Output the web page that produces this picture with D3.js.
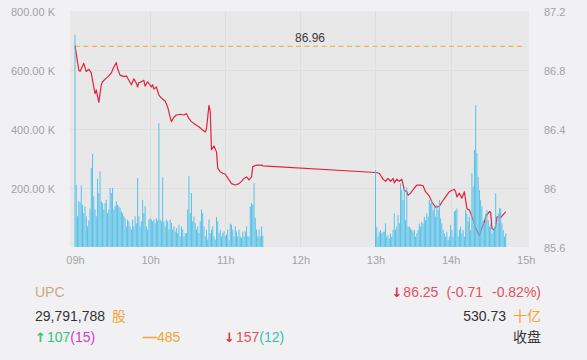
<!DOCTYPE html>
<html><head><meta charset="utf-8">
<script src="https://cdn.jsdelivr.net/npm/d3@7"></script>
<style>
body{margin:0;background:#f1f1f3;}
svg{display:block;font-family:"Liberation Sans",Arial,"Noto Sans CJK SC",sans-serif;}
</style></head><body>
<svg id="c" width="587" height="360"></svg>
<script>
// ---------- data ----------
const prevClose = 86.96;
const volMorningStart = "09:00";
const volMorningK = [719,211,104,155,151,208,143,115,138,104,70,90,130,268,316,172,127,104,232,183,
256,155,149,127,149,160,115,127,200,183,200,127,138,155,143,138,132,121,115,104,
98,70,93,87,70,59,93,70,104,80,234,104,70,87,160,115,138,70,59,93,
98,93,87,93,81,98,90,420,93,87,236,87,70,93,87,59,93,81,59,70,
53,64,47,76,36,70,59,36,47,47,127,240,115,183,87,104,81,59,70,47,
87,127,115,70,36,59,25,93,47,59,70,36,25,102,87,47,59,36,47,53,
36,42,59,25,79,76,59,36,70,53,36,59,36,31,53,36,53,70,36,36,
138,149,143,217,98,59,36,59,36,70,38];
const volAfternoonStart = "13:00";
const volAfternoonK = [261,69,35,52,58,46,52,52,80,35,41,29,46,35,58,114,58,69,108,80,
216,193,159,205,91,202,69,69,63,58,52,58,35,46,58,80,69,86,80,103,
91,114,103,159,148,159,125,137,103,
142,125,159,97,80,58,46,35,52,24,35,75,58,35,120,125,131,35,58,69,
46,58,35,125,114,86,103,58,250,205,329,481,318,238,193,159,137,91,80,114,
125,91,69,80,46,58,69,182,80,114,131,131,80,58,35,46];
const priceTimes = ["09:00","09:03","09:04","09:07","09:09","09:11","09:13","09:14","09:16","09:17",
"09:19","09:21","09:22","09:25","09:27","09:29","09:31","09:33","09:34","09:36",
"09:39","09:41","09:43","09:45","09:47","09:49","09:50","09:51","09:53","09:55",
"09:56","09:58","09:59","10:01","10:02","10:03","10:05","10:07","10:09","10:12",
"10:14","10:16","10:17","10:19","10:21","10:24","10:27","10:29","10:31","10:33",
"10:36","10:39","10:41","10:44","10:45","10:47","10:48","10:49","10:51","10:53",
"10:54","10:56","10:58","11:00","11:01","11:03","11:05","11:08","11:11","11:13",
"11:15","11:17","11:18","11:19","11:21","11:22","11:25","11:29","11:30",
"13:00","13:03","13:06","13:08","13:10","13:12","13:14","13:15","13:17","13:19",
"13:21","13:23","13:25","13:26","13:28","13:31","13:33","13:36","13:38","13:40",
"13:43","13:45","13:48","13:51","13:53","13:56","13:59","14:01","14:03","14:04",
"14:05","14:07","14:09","14:11","14:13","14:15","14:17","14:19","14:20","14:23",
"14:25","14:27","14:28","14:31","14:32","14:33","14:35","14:36","14:37","14:40",
"14:41","14:43","14:44"];
const priceValues = [86.965,86.80,86.79,86.845,86.79,86.805,86.78,86.73,86.64,86.665,
86.58,86.70,86.72,86.745,86.76,86.78,86.82,86.85,86.81,86.765,
86.755,86.76,86.73,86.70,86.74,86.71,86.685,86.715,86.72,86.73,
86.69,86.72,86.71,86.685,86.70,86.67,86.685,86.63,86.61,86.59,
86.55,86.48,86.45,86.48,86.495,86.50,86.495,86.505,86.47,86.45,
86.43,86.415,86.40,86.38,86.40,86.56,86.52,86.26,86.285,86.245,
86.135,86.11,86.10,86.095,86.08,86.055,86.03,86.02,86.03,86.045,
86.065,86.075,86.065,86.055,86.075,86.145,86.155,86.155,86.15,
86.105,86.10,86.06,86.045,86.065,86.045,86.065,86.035,86.06,86.045,
86.06,85.985,85.975,85.95,85.965,86.00,86.02,86.02,86.015,85.975,
85.945,85.905,85.87,85.875,85.905,85.94,85.975,85.985,85.99,85.975,
85.94,85.965,85.93,85.975,85.86,85.85,85.805,85.76,85.73,85.675,
85.73,85.77,85.805,85.84,85.835,85.725,85.715,85.74,85.805,85.80,
85.81,85.83,85.84];
const volTicks = [200000,400000,600000,800000];
const priceTicks = [85.6,86,86.4,86.8,87.2];
const hourTicks = ["09:00","10:00","11:00","12:00","13:00","14:00","15:00"];

// ---------- setup ----------
const svg = d3.select("#c");
const W = 587, H = 360;
const plot = {left:70, right:529, top:11, bottom:247};
const parse = s => { const [h,m] = s.split(":").map(Number); return new Date(2020,0,2,h,m); };
const addMin = (d,n) => new Date(d.getTime()+n*60000);

const x = d3.scaleTime()
  .domain([parse("08:56"), parse("15:03")])
  .range([plot.left, plot.right+0.5]);
const yV = d3.scaleLinear().domain([0,800000]).range([plot.bottom, plot.top]);
const yP = d3.scaleLinear().domain([85.6,87.2]).range([plot.bottom, plot.top]);

svg.append("rect").attr("width",W).attr("height",H).attr("fill","#f1f1f3");
svg.append("rect").attr("x",plot.left).attr("y",plot.top)
  .attr("width",plot.right-plot.left).attr("height",plot.bottom-plot.top)
  .attr("fill","#e8e8e8");

// grid
const grid = svg.append("g").attr("stroke","#dedede").attr("stroke-width",1);
grid.selectAll("line.h").data(volTicks.slice(0,3)).join("line")
  .attr("x1",plot.left).attr("x2",plot.right)
  .attr("y1",d=>Math.round(yV(d))+0.5).attr("y2",d=>Math.round(yV(d))+0.5);
grid.selectAll("line.v").data(hourTicks.slice(1,6)).join("line")
  .attr("x1",d=>Math.round(x(parse(d)))+0.5).attr("x2",d=>Math.round(x(parse(d)))+0.5)
  .attr("y1",plot.top).attr("y2",plot.bottom);

// reference line
const t0 = parse("09:00"), t1 = parse("15:00");
svg.append("line").attr("x1",x(t0)).attr("x2",x(t1))
  .attr("y1",yP(prevClose)).attr("y2",yP(prevClose))
  .attr("stroke","#f5b453").attr("stroke-width",1.3).attr("stroke-dasharray","5,3.5");
svg.append("text").attr("x",310).attr("y",yP(prevClose)-4.5)
  .attr("text-anchor","middle").attr("font-size",12).attr("fill","#3a3a3a")
  .text(prevClose.toFixed(2));

// price line
const pts = priceTimes.map((t,i)=>({t:parse(t), p:priceValues[i]}));
svg.append("path").datum(pts)
  .attr("d", d3.line().x(d=>x(d.t)).y(d=>yP(d.p)))
  .attr("fill","none").attr("stroke","#e2233b").attr("stroke-width",1.2)
  .attr("stroke-linejoin","round");

// volume bars
const bars = [
  ...volMorningK.map((v,i)=>({t:addMin(parse(volMorningStart),i), v:v*1000})),
  ...volAfternoonK.map((v,i)=>({t:addMin(parse(volAfternoonStart),i), v:v*1000}))
];
svg.append("g").selectAll("rect").data(bars).join("rect")
  .attr("x",d=>x(d.t)-0.5).attr("width",1)
  .attr("y",d=>yV(d.v)).attr("height",d=>yV(0)-yV(d.v))
  .attr("fill","#56c2ea");

// axes
const axisStyle = g => {
  g.select(".domain").remove();
  g.selectAll(".tick line").remove();
  g.selectAll("text").attr("fill","#a3a3a3").attr("font-size",11)
    .attr("font-family","Liberation Sans, Arial, sans-serif");
};
svg.append("g").attr("transform",`translate(${plot.left},1)`)
  .call(d3.axisLeft(yV).tickValues(volTicks).tickSize(0).tickPadding(15)
    .tickFormat(d=>(d/1000).toFixed(2)+" K"))
  .call(axisStyle);
svg.append("g").attr("transform",`translate(${plot.right},1)`)
  .call(d3.axisRight(yP).tickValues(priceTicks).tickSize(0).tickPadding(15)
    .tickFormat(d=>String(+d.toFixed(1))))
  .call(axisStyle);
svg.append("g").attr("transform",`translate(0,${plot.bottom})`)
  .call(d3.axisBottom(x).tickValues(hourTicks.map(parse)).tickSize(0).tickPadding(9)
    .tickFormat(d3.timeFormat("%Hh")))
  .call(axisStyle);

// ---------- info panel ----------
const info = svg.append("g").attr("font-size",14);
info.append("text").attr("x",35).attr("y",297).attr("fill","#cba886").text("UPC");
const t2 = info.append("text").attr("x",35).attr("y",321);
t2.append("tspan").attr("fill","#333").text("29,791,788");
t2.append("tspan").attr("dx",7).attr("fill","#f2a43a").attr("font-family","Noto Sans CJK SC").text("股");

const r3 = info.append("text").attr("x",35).attr("y",342);
r3.append("tspan").attr("fill","#33c46f").attr("font-weight","bold").attr("font-family","DejaVu Sans").attr("font-size",13).text("↑");
r3.append("tspan").attr("dx",1).attr("fill","#33c46f").text("107");
r3.append("tspan").attr("fill","#d23ad2").text("(15)");
const r3b = info.append("text").attr("x",143).attr("y",342).attr("fill","#f2a43a");
r3b.append("tspan").attr("font-weight","bold").text("—");
r3b.append("tspan").text("485");
const r3c = info.append("text").attr("x",224).attr("y",342);
r3c.append("tspan").attr("fill","#de2c3e").attr("font-weight","bold").attr("font-family","DejaVu Sans").attr("font-size",13).text("↓");
r3c.append("tspan").attr("dx",1).attr("fill","#e1525f").text("157");
r3c.append("tspan").attr("fill","#2fc4b2").text("(12)");

const rx = 541;
const q1 = info.append("text").attr("x",rx).attr("y",297).attr("text-anchor","end").attr("fill","#e1525f");
q1.append("tspan").attr("fill","#de2c3e").attr("font-weight","bold").attr("font-family","DejaVu Sans").attr("font-size",13).text("↓");
q1.append("tspan").attr("dx",1).text("86.25");
q1.append("tspan").attr("dx",8).text("(-0.71");
q1.append("tspan").attr("dx",9).text("-0.82%)");
const q2 = info.append("text").attr("x",rx).attr("y",321).attr("text-anchor","end");
q2.append("tspan").attr("fill","#333").text("530.73");
q2.append("tspan").attr("dx",7).attr("fill","#f2a43a").attr("font-family","Noto Sans CJK SC").text("十亿");
info.append("text").attr("x",rx).attr("y",342).attr("text-anchor","end").attr("fill","#333")
  .attr("font-family","Noto Sans CJK SC").text("收盘");
</script>
</body></html>
